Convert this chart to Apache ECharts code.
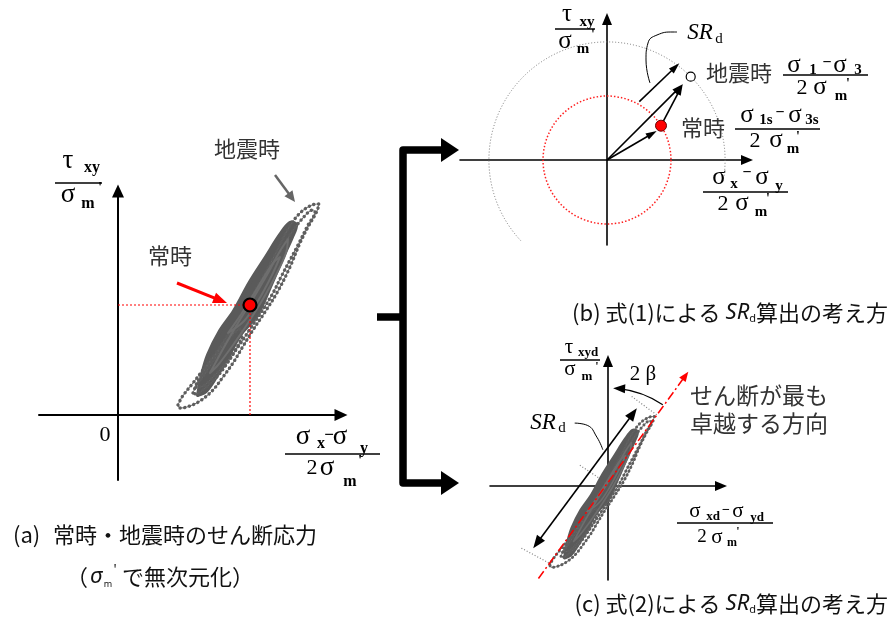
<!DOCTYPE html>
<html>
<head>
<meta charset="utf-8">
<script src="https://cdn.jsdelivr.net/npm/echarts@6/dist/echarts.min.js"></script>
<style>
  html, body { margin: 0; padding: 0; background: #fff; }
  #chart { width: 892px; height: 619px; }
</style>
</head>
<body>
<div id="chart"></div>
<script>
// ---------- data (stresses normalised by σm') ----------
// Panel (a): recorded stress paths, x = (σx−σy)/2σm', y = τxy/σm'
const loopOuter = [[0.60,0.10],[0.64,0.18],[0.75,0.32],[0.85,0.45],[1.00,0.65],[1.15,0.88],[1.30,1.12],[1.45,1.38],[1.58,1.62],[1.70,1.86],[1.82,2.02],[1.94,2.10],[2.01,2.11],[1.99,2.04],[1.90,1.88],[1.82,1.72],[1.72,1.48],[1.60,1.24],[1.47,1.03],[1.35,0.85],[1.24,0.67],[1.15,0.52],[1.05,0.38],[0.95,0.25],[0.82,0.14],[0.69,0.08],[0.62,0.07],[0.60,0.10]];
const loopMid = [[0.78,0.28],[0.86,0.40],[0.98,0.58],[1.12,0.80],[1.28,1.06],[1.44,1.32],[1.58,1.56],[1.72,1.80],[1.84,1.96],[1.95,2.05],[1.97,2.03],[1.90,1.90],[1.80,1.70],[1.72,1.55],[1.63,1.38],[1.55,1.22],[1.44,1.04],[1.32,0.86],[1.20,0.68],[1.08,0.52],[0.96,0.39],[0.85,0.29],[0.78,0.28]];
const loopLow = [[0.75,0.22],[0.80,0.34],[0.90,0.50],[1.02,0.66],[1.14,0.80],[1.22,0.86],[1.24,0.80],[1.18,0.66],[1.08,0.50],[0.97,0.36],[0.86,0.26],[0.78,0.21],[0.75,0.22]];
const blobA = [[0.80,0.20],[0.84,0.40],[0.90,0.60],[1.02,0.84],[1.16,1.04],[1.32,1.33],[1.48,1.58],[1.62,1.80],[1.72,1.92],[1.78,1.90],[1.74,1.78],[1.64,1.56],[1.52,1.28],[1.39,1.00],[1.22,0.80],[1.10,0.58],[0.98,0.38],[0.88,0.24],[0.80,0.20]];
const blobB = [[0.92,0.42],[1.05,0.66],[1.20,0.92],[1.36,1.18],[1.50,1.42],[1.62,1.64],[1.70,1.76],[1.68,1.62],[1.58,1.40],[1.45,1.16],[1.30,0.92],[1.15,0.70],[1.00,0.50],[0.92,0.42]];
const blobC = [[1.10,0.82],[1.24,1.02],[1.40,1.28],[1.55,1.52],[1.62,1.58],[1.54,1.40],[1.40,1.14],[1.26,0.94],[1.10,0.82]];
const normalStateA = [1.32, 1.10];          // 常時
const pointerQuakeA = [1.57, 2.40, 1.77, 2.13];
const pointerNormalA = [0.59, 1.32, 1.09, 1.12];

// Panel (c): mean stress state removed before plotting
const meanState = [1.385, 1.17];
const shearDirC = [-0.94, -1.25, 1.085, 1.545];   // せん断が最も卓越する方向
const srArrowC = [-1.01, -0.84, 0.39, 1.05];
const perpTicksC = [[0.32, 1.21, 0.66, 0.96], [-1.17, -0.84, -0.78, -1.05], [-0.38, 0.28, -0.11, 0.10]];
const leaderC = [[-0.45, 0.85], [-0.28, 0.82], [-0.15, 0.66], [-0.07, 0.49]];
const betaArcC = [1.324, 56, 87];                  // radius, from / to angle (deg)

// Panel (b): stress states and circles
const normalB = [0.54, 0.343];
const quakeB = [0.837, 0.833];
const arrowsB = [[0, 0, 0.497, 0.29], [0, 0, 0.757, 0.757], [0.54, 0.343, 0.757, 0.757]];
const srArrowB = [0.323, 0.583, 0.723, 0.967];
const leaderB = [[0.43, 0.77], [0.39, 1.00], [0.41, 1.17], [0.50, 1.25], [0.66, 1.28], [0.70, 1.28]];

// ---------- helpers ----------
const SERIF = '"Liberation Serif","DejaVu Serif",serif';
const JP = '"Noto Sans CJK JP","Noto Sans CJK SC",sans-serif';
const SANS = '"Noto Sans","Liberation Sans",sans-serif';
const shift = d => d.map(p => [p[0] - meanState[0], p[1] - meanState[1]]);

function axis(min, max, gi, w, sym) {
  return {
    type: 'value', gridIndex: gi, min: min, max: max,
    axisLine: { show: true, onZero: true, symbol: ['none', 'triangle'], symbolSize: sym,
                lineStyle: { color: '#000', width: w } },
    axisTick: { show: false }, axisLabel: { show: false }, splitLine: { show: false }
  };
}

function dottedLoop(data, gi, w) {
  return [
    { type: 'line', xAxisIndex: gi, yAxisIndex: gi, data: data, smooth: 0.35, symbol: 'none', silent: true,
      lineStyle: { color: '#6a6a6a', width: 1 } },
    { type: 'line', xAxisIndex: gi, yAxisIndex: gi, data: data, smooth: 0.35, symbol: 'none', silent: true,
      lineStyle: { color: '#5e5e5e', width: w, type: [0.1, w + 1.2], cap: 'round' } }
  ];
}
function solidLoop(data, gi, w, color) {
  return { type: 'line', xAxisIndex: gi, yAxisIndex: gi, data: data, smooth: 0.35, symbol: 'none', silent: true,
           lineStyle: { color: color || '#5a5a5a', width: w, join: 'round', cap: 'round' } };
}
// dense core of the stress path: the loop drawn as a filled area
function filledLoop(data, gi, w) {
  return {
    type: 'custom', coordinateSystem: 'cartesian2d', xAxisIndex: gi, yAxisIndex: gi,
    silent: true, data: data, z: 2,
    renderItem: function (params, api) {
      if (params.dataIndex !== 0) return null;
      const pts = data.map(p => api.coord(p));
      return { type: 'polygon', shape: { points: pts, smooth: 0.35 },
               style: { fill: '#5a5a5a', stroke: '#5a5a5a', lineWidth: w, lineJoin: 'round' } };
    }
  };
}

function headShape(tip, ux, uy, L, W, color) {
  const nx = -uy, ny = ux;
  return { type: 'polygon', shape: { points: [
    [tip[0], tip[1]],
    [tip[0] - ux * L + nx * W / 2, tip[1] - uy * L + ny * W / 2],
    [tip[0] - ux * L - nx * W / 2, tip[1] - uy * L - ny * W / 2]
  ] }, style: { fill: color } };
}
// Segment between two data points, optional arrow heads
function arrowSeries(gi, data, o) {
  return {
    type: 'custom', coordinateSystem: 'cartesian2d', xAxisIndex: gi, yAxisIndex: gi,
    silent: true, data: data, z: o.z || 3,
    renderItem: function (params, api) {
      const p0 = api.coord([api.value(0), api.value(1)]);
      const p1 = api.coord([api.value(2), api.value(3)]);
      const dx = p1[0] - p0[0], dy = p1[1] - p0[1];
      const len = Math.hypot(dx, dy), ux = dx / len, uy = dy / len;
      const L = o.head || 0, k = 0.85;
      const children = [];
      let s = p0, e = p1;
      if (L) {
        e = [p1[0] - ux * L * k, p1[1] - uy * L * k];
        children.push(headShape(p1, ux, uy, L, o.headW, o.color));
        if (o.both) {
          s = [p0[0] + ux * L * k, p0[1] + uy * L * k];
          children.push(headShape(p0, -ux, -uy, L, o.headW, o.color));
        }
      }
      children.unshift({ type: 'line', shape: { x1: s[0], y1: s[1], x2: e[0], y2: e[1] },
        style: { stroke: o.color, lineWidth: o.width, lineDash: o.dash || null, lineCap: o.cap || 'butt' } });
      return { type: 'group', children: children };
    }
  };
}

function circleSeries(gi, data, style, a0, a1) {
  return {
    type: 'custom', coordinateSystem: 'cartesian2d', xAxisIndex: gi, yAxisIndex: gi,
    silent: true, data: data, z: 1,
    renderItem: function (params, api) {
      const c = api.coord([api.value(0), api.value(1)]);
      const r = api.size([api.value(2), 0])[0];
      return { type: 'arc', shape: { cx: c[0], cy: c[1], r: r, startAngle: a0, endAngle: a1, clockwise: true },
               style: Object.assign({ fill: 'none' }, style) };
    }
  };
}

function betaArcSeries(gi, spec) {
  return {
    type: 'custom', coordinateSystem: 'cartesian2d', xAxisIndex: gi, yAxisIndex: gi,
    silent: true, data: [spec], z: 4,
    renderItem: function (params, api) {
      const c = api.coord([0, 0]);
      const r = api.size([api.value(0), 0])[0];
      const a0 = api.value(1) * Math.PI / 180, a1 = api.value(2) * Math.PI / 180;
      const tip = [c[0] + r * Math.cos(a1), c[1] - r * Math.sin(a1)];
      const ux = -Math.sin(a1), uy = -Math.cos(a1);
      return { type: 'group', children: [
        { type: 'arc', shape: { cx: c[0], cy: c[1], r: r, startAngle: -a0, endAngle: -(a1 - 0.06), clockwise: false },
          style: { stroke: '#000', lineWidth: 1.2, fill: 'none' } },
        headShape(tip, ux, uy, 12, 9, '#000')
      ] };
    }
  };
}

function curve(gi, data) {
  return { type: 'line', xAxisIndex: gi, yAxisIndex: gi, data: data, smooth: 0.5, symbol: 'none', silent: true,
           lineStyle: { color: '#000', width: 1 }, z: 3 };
}

// text helpers
function txt(x, y, text, size, extra) {
  return { type: 'text', x: x, y: y, silent: true,
    style: Object.assign({ text: text, fontSize: size, fontFamily: SERIF, fill: '#000',
      align: 'center', verticalAlign: 'middle', textAlign: 'center', textVerticalAlign: 'middle' }, extra || {}) };
}
const B = { fontWeight: 'bold' };
function rule(x1, x2, y, w) {
  return { type: 'line', silent: true, shape: { x1: x1, y1: y, x2: x2, y2: y }, style: { stroke: '#000', lineWidth: w || 1.3 } };
}

// ---------- series ----------
const series = [];
// panel (a)
[loopOuter, loopMid, loopLow].forEach(d => series.push(...dottedLoop(d, 0, 3.4)));
series.push(filledLoop(blobA, 0, 4));
[blobB, blobC].forEach(d => series.push(solidLoop(d, 0, 2, '#6e6e6e')));
series.push({ type: 'line', xAxisIndex: 0, yAxisIndex: 0, symbol: 'none', silent: true, z: 3,
  data: [[0, normalStateA[1]], normalStateA, [normalStateA[0], 0]],
  lineStyle: { color: '#ff0000', width: 1.2, type: [2, 2] } });
series.push(arrowSeries(0, [pointerQuakeA], { color: '#666', width: 2.5, head: 11, headW: 10 }));
series.push(arrowSeries(0, [pointerNormalA], { color: '#ff0000', width: 3, head: 14, headW: 11 }));
series.push({ type: 'scatter', xAxisIndex: 0, yAxisIndex: 0, data: [normalStateA], symbolSize: 13, silent: true, z: 6,
  itemStyle: { color: '#ff0000', borderColor: '#000', borderWidth: 2.2, opacity: 1 } });

// panel (b)
const rNormal = Math.hypot(normalB[0], normalB[1]);
const rQuake = Math.hypot(quakeB[0], quakeB[1]);
series.push(circleSeries(1, [[0, 0, rQuake]], { stroke: '#777', lineWidth: 1, lineDash: [1, 2] },
  137 * Math.PI / 180, 368 * Math.PI / 180));
series.push(circleSeries(1, [[0, 0, rNormal]], { stroke: '#ff2020', lineWidth: 1.5, lineDash: [1.5, 2] },
  0, Math.PI * 2));
series.push(arrowSeries(1, arrowsB, { color: '#000', width: 1.6, head: 11, headW: 7 }));
series.push(arrowSeries(1, [srArrowB], { color: '#000', width: 1.6, head: 11, headW: 7 }));
series.push(curve(1, leaderB));
series.push({ type: 'scatter', xAxisIndex: 1, yAxisIndex: 1, data: [normalB], symbolSize: 11, silent: true, z: 6,
  itemStyle: { color: '#ff0000', borderColor: '#600', borderWidth: 1, opacity: 1 } });
series.push({ type: 'scatter', xAxisIndex: 1, yAxisIndex: 1, data: [quakeB], symbolSize: 9, silent: true, z: 6,
  itemStyle: { color: '#fff', borderColor: '#000', borderWidth: 1.2, opacity: 1 } });

// panel (c)
[loopOuter, loopMid, loopLow].forEach(d => series.push(...dottedLoop(shift(d), 2, 3)));
series.push(filledLoop(shift(blobA), 2, 3.5));
[blobB, blobC].forEach(d => series.push(solidLoop(shift(d), 2, 1.6, '#6e6e6e')));
series.push(arrowSeries(2, perpTicksC, { color: '#808080', width: 1.2, dash: [1, 2] }));
series.push(arrowSeries(2, [shearDirC], { color: '#ff0000', width: 1.5, dash: [9, 3, 2, 3], head: 10, headW: 8, z: 5 }));
series.push(arrowSeries(2, [srArrowC], { color: '#000', width: 1.6, head: 13, headW: 10, both: true }));
series.push(curve(2, leaderC));
series.push(betaArcSeries(2, betaArcC));

// ---------- labels and the connecting bracket ----------
const graphic = [
  // bracket arrows
  { type: 'polyline', silent: true, shape: { points: [[446, 150], [403, 150], [403, 483], [446, 483]] },
    style: { stroke: '#000', lineWidth: 7.5, lineJoin: 'round', fill: null } },
  { type: 'line', silent: true, shape: { x1: 377, y1: 317, x2: 403, y2: 317 }, style: { stroke: '#000', lineWidth: 7.5 } },
  { type: 'polygon', silent: true, shape: { points: [[441, 138], [459, 150], [441, 162]] }, style: { fill: '#000' } },
  { type: 'polygon', silent: true, shape: { points: [[441, 471], [459, 483], [441, 495]] }, style: { fill: '#000' } },

  // panel (a) axis titles
  txt(68, 161, 'τ', 27), txt(92, 168, 'xy', 16, B), rule(55, 102, 183),
  txt(68, 195, 'σ', 27), txt(88, 204, 'm', 16, B), txt(100, 188, "'", 15, B),
  txt(303, 437, 'σ', 27), txt(321, 444, 'x', 16, B), txt(329, 436, '−', 17, B), txt(340, 437, 'σ', 27), txt(364, 449, 'y', 16, B),
  rule(285, 380, 454),
  txt(312, 468, '2', 22), txt(327, 468, 'σ', 27), txt(350, 482, 'm', 16, B), txt(360, 461, "'", 15, B),
  txt(105, 435, '0', 22),
  txt(247, 149, '地震時', 22, { fontFamily: JP, fill: '#333' }),
  txt(170, 256, '常時', 22, { fontFamily: JP, fill: '#333' }),

  // panel (b)
  txt(567, 14, 'τ', 25), txt(587, 22, 'xy', 15, B), rule(555, 595, 29),
  txt(565, 41, 'σ', 25), txt(583, 49, 'm', 15, B), txt(593, 35, "'", 14, B),
  txt(700, 33, 'SR', 23, { fontStyle: 'italic' }), txt(719, 39, 'd', 15),
  txt(739, 73, '地震時', 22, { fontFamily: JP, fill: '#333' }),
  txt(794, 65, 'σ', 25), txt(813, 70, '1', 15, B), txt(827, 63, '−', 16, B), txt(840, 65, 'σ', 25), txt(858, 70, '3', 15, B),
  rule(783, 868, 75),
  txt(802, 88, '2', 22), txt(820, 87, 'σ', 25), txt(841, 96, 'm', 15, B), txt(848, 84, "'", 14, B),
  txt(703, 128, '常時', 22, { fontFamily: JP, fill: '#333' }),
  txt(747, 115, 'σ', 25), txt(766, 120, '1s', 15, B), txt(780, 113, '−', 16, B), txt(795, 115, 'σ', 25), txt(812, 120, '3s', 15, B),
  rule(735, 820, 129),
  txt(755, 141, '2', 22), txt(776, 140, 'σ', 25), txt(793, 149, 'm', 15, B), txt(798, 137, "'", 14, B),
  txt(719, 177, 'σ', 25), txt(734, 184, 'x', 15, B), txt(747, 173, '−', 16, B), txt(762, 177, 'σ', 25), txt(779, 186, 'y', 15, B),
  rule(703, 788, 192),
  txt(723, 204, '2', 22), txt(742, 203, 'σ', 25), txt(761, 212, 'm', 15, B), txt(768, 199, "'", 14, B),

  // panel (c)
  txt(569, 347, 'τ', 21), txt(588, 353, 'xyd', 13, B), rule(560, 600, 360),
  txt(570, 369, 'σ', 21), txt(587, 377, 'm', 13, B), txt(597, 367, "'", 12, B),
  txt(643, 374, '2 β', 21),
  txt(759, 395, 'せん断が最も', 23, { fontFamily: JP, fill: '#333' }),
  txt(759, 423, '卓越する方向', 23, { fontFamily: JP, fill: '#333' }),
  txt(543, 423, 'SR', 23, { fontStyle: 'italic' }), txt(562, 428, 'd', 15),
  txt(695, 511, 'σ', 21), txt(713, 517, 'xd', 13, B), txt(726, 510, '−', 14, B), txt(738, 511, 'σ', 21), txt(757, 518, 'yd', 13, B),
  rule(677, 773, 523),
  txt(702, 537, '2', 19), txt(717, 537, 'σ', 21), txt(732, 543, 'm', 12, B), txt(738, 532, "'", 12, B),

  // captions
  txt(13, 535, '(a)', 22, { fontFamily: JP, align: 'left', textAlign: 'left', fill: '#111' }),
  txt(53, 535, '常時・地震時のせん断応力', 22, { fontFamily: JP, align: 'left', textAlign: 'left', fill: '#111' }),
  txt(66, 577, '（', 22, { fontFamily: JP, align: 'left', textAlign: 'left', fill: '#111' }),
  txt(90, 577, 'σ', 22, { fontFamily: SANS, fontStyle: 'italic', align: 'left', textAlign: 'left', fill: '#111' }),
  txt(108, 584, 'm', 9, { fontFamily: SANS, fill: '#111' }),
  txt(115, 570, "'", 14, { fontFamily: SANS, fill: '#111' }),
  txt(122, 577, 'で無次元化）', 22, { fontFamily: JP, align: 'left', textAlign: 'left', fill: '#111' }),
  { type: 'text', x: 888, y: 313, silent: true, style: {
      text: '{t|(b) 式(1)による }{i|SR}{d|d}{t|算出の考え方}', align: 'right', verticalAlign: 'middle',
      textAlign: 'right', textVerticalAlign: 'middle',
      rich: { t: { fontFamily: JP, fontSize: 22, fill: '#111' },
              i: { fontFamily: SANS, fontStyle: 'italic', fontSize: 22, fill: '#111' },
              d: { fontFamily: SANS, fontSize: 11, fill: '#111', verticalAlign: 'bottom' } } } },
  { type: 'text', x: 888, y: 604, silent: true, style: {
      text: '{t|(c) 式(2)による }{i|SR}{d|d}{t|算出の考え方}', align: 'right', verticalAlign: 'middle',
      textAlign: 'right', textVerticalAlign: 'middle',
      rich: { t: { fontFamily: JP, fontSize: 22, fill: '#111' },
              i: { fontFamily: SANS, fontStyle: 'italic', fontSize: 22, fill: '#111' },
              d: { fontFamily: SANS, fontSize: 11, fill: '#111', verticalAlign: 'bottom' } } } }
];

const chart = echarts.init(document.getElementById('chart'), null, { renderer: 'canvas' });
chart.setOption({
  animation: false,
  backgroundColor: '#fff',
  grid: [
    { left: 39, top: 191, width: 302, height: 289 },
    { left: 460, top: 19, width: 287, height: 226 },
    { left: 490, top: 361, width: 231, height: 219 }
  ],
  xAxis: [axis(-0.79, 2.23, 0, 2, [12, 13]), axis(-1.47, 1.40, 1, 1.6, [10, 12]), axis(-1.5946, 1.5270, 2, 1.6, [10, 12])],
  yAxis: [axis(-0.65, 2.24, 0, 2, [12, 13]), axis(-0.85, 1.41, 1, 1.6, [10, 12]), axis(-1.2703, 1.6892, 2, 1.6, [10, 12])],
  series: series,
  graphic: graphic
});
</script>
</body>
</html>
